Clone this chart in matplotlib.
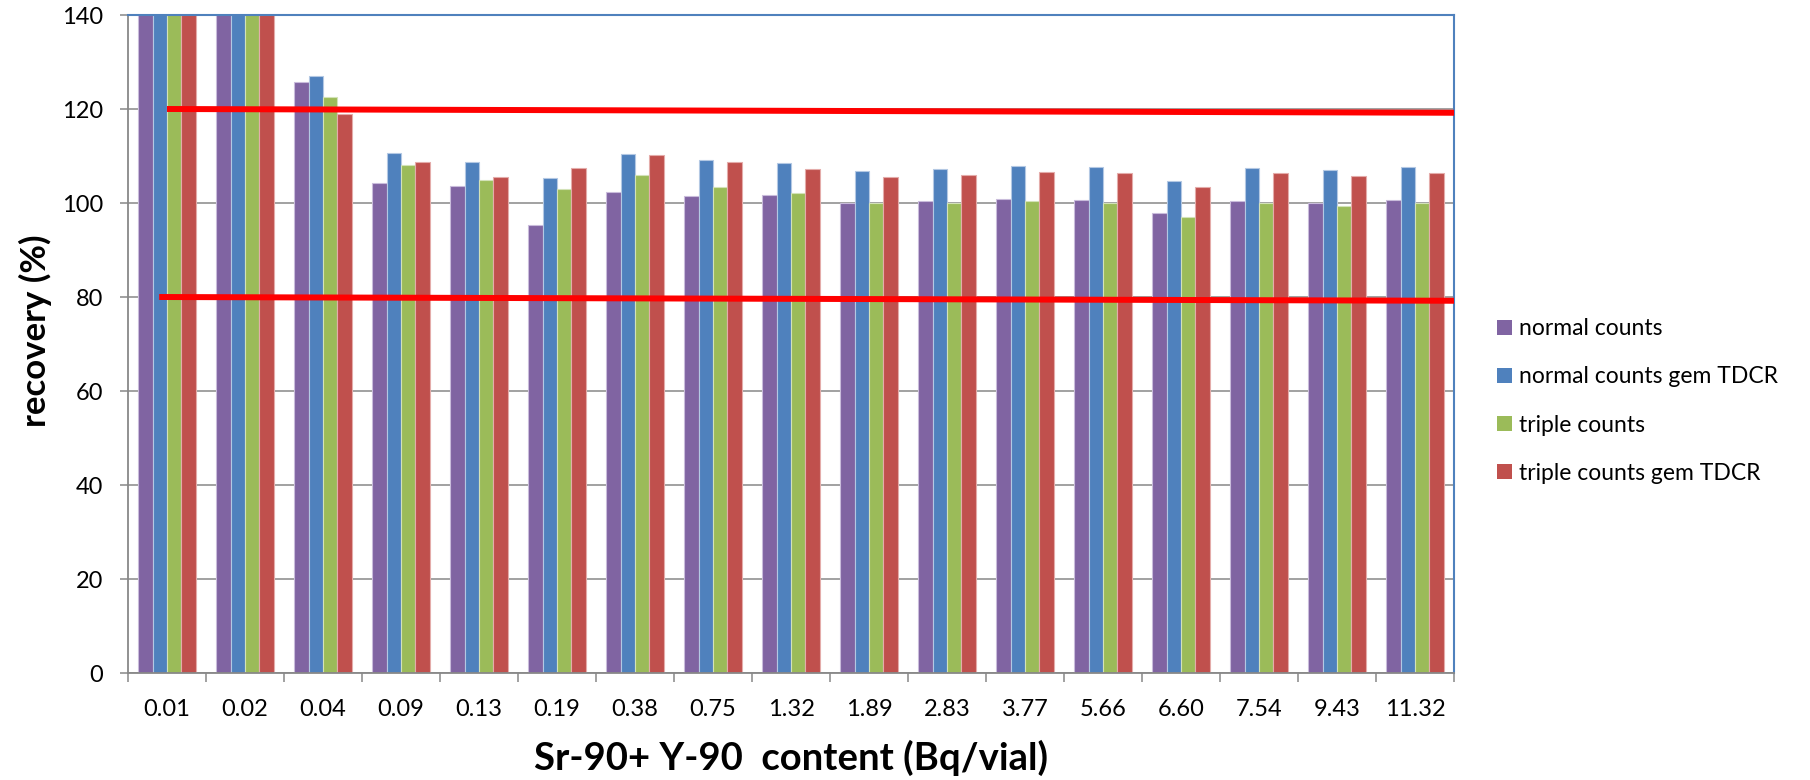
import numpy as np
import matplotlib
matplotlib.use("Agg")
import matplotlib.pyplot as plt
from matplotlib.patches import Patch

plt.rcParams['font.family'] = ['Lato', 'DejaVu Sans']

# categories on the x axis (Bq/vial)
contents = ["0.01", "0.02", "0.04", "0.09", "0.13", "0.19", "0.38", "0.75", "1.32",
            "1.89", "2.83", "3.77", "5.66", "6.60", "7.54", "9.43", "11.32"]

# recovery (%) per series; first two groups run off the top of the axis
normal_counts = [145, 145, 125.8, 104.2, 103.7, 95.4, 102.4, 101.4, 101.8,
                 100.0, 100.4, 100.8, 100.7, 97.9, 100.4, 100.1, 100.6]
normal_counts_tdcr = [145, 145, 127.1, 110.7, 108.8, 105.3, 110.5, 109.2, 108.6,
                      106.8, 107.2, 107.8, 107.6, 104.6, 107.4, 107.0, 107.6]
triple_counts = [145, 145, 122.5, 108.0, 105.0, 103.0, 106.0, 103.5, 102.1,
                 100.1, 100.1, 100.4, 100.1, 97.1, 99.9, 99.3, 99.9]
triple_counts_tdcr = [145, 145, 118.9, 108.8, 105.5, 107.5, 110.2, 108.8, 107.3,
                      105.5, 105.9, 106.5, 106.3, 103.3, 106.3, 105.7, 106.3]

series_names = ["normal counts", "normal counts gem TDCR", "triple counts",
                "triple counts gem TDCR"]

# the two red limit lines
upper_x = [0.0, 16.5]
upper_y = [120.0, 119.2]
lower_x = [-0.1, 16.5]
lower_y = [80.0, 79.2]

colors = ["#8064A2", "#4F81BD", "#9BBB59", "#C0504D"]
edges = ["#C9BCDB", "#B3C8E3", "#D3E2B8", "#E4ACAA"]
grey = "#888888"

W, H = 1810, 780
fig = plt.figure(figsize=(W / 100, H / 100), dpi=100)
ax = fig.add_axes([128 / W, 1 - 673 / H, (1454 - 128) / W, (673 - 15) / H])

x = np.arange(len(contents))
bw = 0.183
all_series = [normal_counts, normal_counts_tdcr, triple_counts, triple_counts_tdcr]
for i, vals in enumerate(all_series):
    ax.bar(x + (i - 1.5) * bw, vals, bw, color=colors[i], edgecolor=edges[i],
           linewidth=0.8, zorder=2)

ax.plot(upper_x, upper_y, color="#FF0000", linewidth=4.3, zorder=4,
        solid_capstyle="butt")
ax.plot(lower_x, lower_y, color="#FF0000", linewidth=4.3, zorder=4,
        solid_capstyle="butt")

ax.set_xlim(-0.5, len(contents) - 0.5)
ax.set_ylim(0, 140)
ax.set_yticks(np.arange(0, 141, 20))
ax.yaxis.grid(True, color=grey, linewidth=1.1, zorder=0)
ax.set_axisbelow(True)

ax.set_xticks(x)
ax.set_xticklabels(contents)
ax.set_xticks(np.arange(-0.5, len(contents), 1.0), minor=True)
ax.tick_params(axis="x", which="major", length=0, pad=19, labelsize=17)
ax.tick_params(axis="x", which="minor", length=6.5, width=1.1, color=grey,
               direction="out")
ax.tick_params(axis="y", length=5.8, width=1.1, color=grey, direction="out",
               pad=12, labelsize=17)

for side in ["left", "bottom"]:
    ax.spines[side].set_color(grey)
    ax.spines[side].set_linewidth(1.3)
for side in ["top", "right"]:
    ax.spines[side].set_color("#4F81BD")
    ax.spines[side].set_linewidth(1.5)

ax.set_xlabel("Sr-90+ Y-90  content (Bq/vial)", fontsize=27.5, fontweight="bold",
              labelpad=14)
ax.set_ylabel("recovery (%)", fontsize=25, fontweight="bold")
ax.yaxis.set_label_coords(-0.057, 0.52)

handles = [Patch(facecolor=c, edgecolor="none") for c in colors]
fig.legend(handles, series_names, loc="center left",
           bbox_to_anchor=(1497 / W, 1 - 401 / H), frameon=False,
           fontsize=16.5, handlelength=0.65, handleheight=0.65,
           handletextpad=0.3, labelspacing=1.18, borderpad=0, borderaxespad=0)

fig.savefig("out.png", dpi=100)
